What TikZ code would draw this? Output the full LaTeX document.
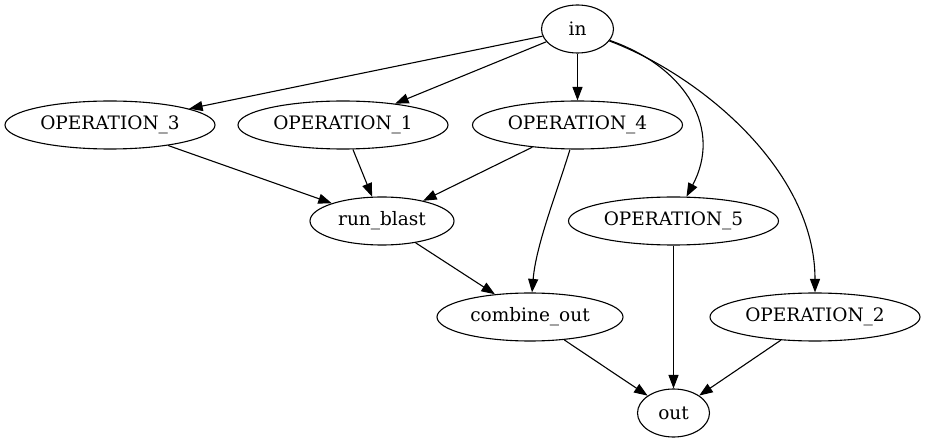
\documentclass[tikz,border=0pt]{standalone}
\usepackage{fontspec}
\setmainfont{DejaVu Serif}
\usetikzlibrary{shapes.geometric,arrows.meta}
\begin{document}
\begin{tikzpicture}[x=1pt,y=-1pt,
  gnode/.style={draw=black,ellipse,inner sep=0pt,minimum height=48pt,line width=1.1pt,
    font=\fontsize{18.5}{22}\selectfont},
  gedge/.style={draw=black,line width=1.1pt,-{Triangle[length=13.5pt,width=10pt]}}]
\useasboundingbox (0,0) rectangle (926,443);
\node[gnode,minimum width=72pt] (in) at (577.5,29) {in};
\node[gnode,minimum width=210pt] (op3) at (110,125) {OPERATION\_3};
\node[gnode,minimum width=210pt] (op1) at (343,125) {OPERATION\_1};
\node[gnode,minimum width=210pt] (op4) at (577.5,125) {OPERATION\_4};
\node[gnode,minimum width=144pt] (rb) at (382,221) {run\_blast};
\node[gnode,minimum width=210pt] (op5) at (673.5,221) {OPERATION\_5};
\node[gnode,minimum width=186pt] (co) at (530,317) {combine\_out};
\node[gnode,minimum width=210pt] (op2) at (815,317) {OPERATION\_2};
\node[gnode,minimum width=72pt] (out) at (673.5,413) {out};
\path[gedge] (in) -- (op3);
\path[gedge] (in) -- (op1);
\path[gedge] (in) -- (op4);
\path[gedge] (in) .. controls (688,68) and (722,130) .. (op5);
\path[gedge] (in) .. controls (700,75) and (815,170) .. (op2);
\path[gedge] (op3) -- (rb);
\path[gedge] (op1) -- (rb);
\path[gedge] (op4) -- (rb);
\path[gedge] (op4) .. controls (556,195) and (536,245) .. (co);
\path[gedge] (rb) -- (co);
\path[gedge] (co) -- (out);
\path[gedge] (op5) -- (out);
\path[gedge] (op2) -- (out);
\end{tikzpicture}
\end{document}
